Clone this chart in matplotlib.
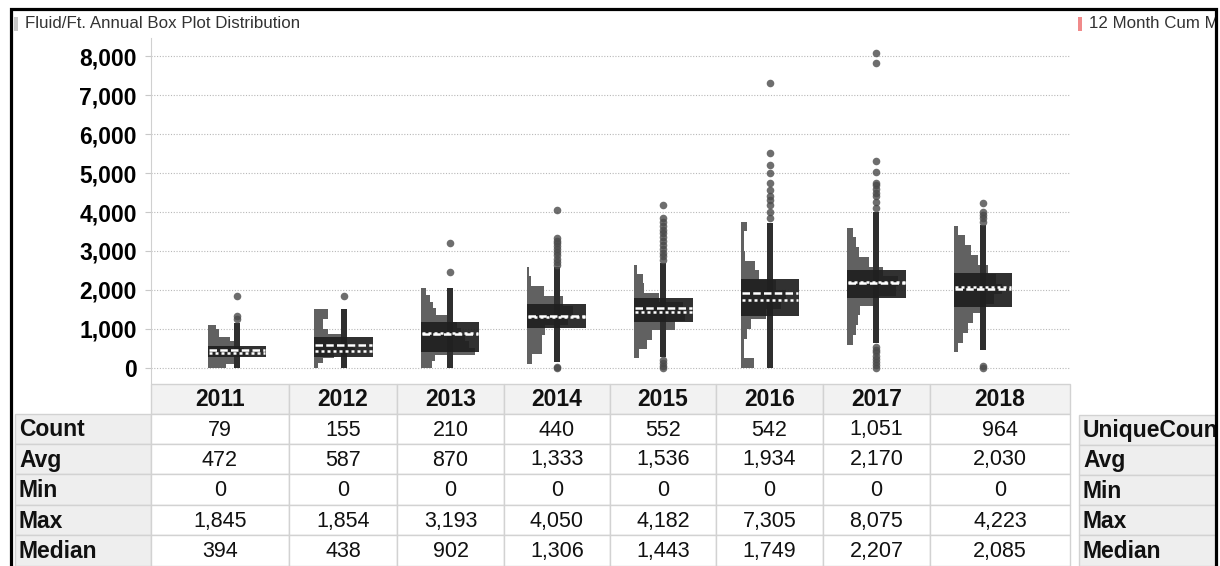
import matplotlib
matplotlib.use("Agg")
import matplotlib.pyplot as plt
from matplotlib.patches import Rectangle
from matplotlib.ticker import FuncFormatter

plt.rcParams['font.family'] = ['Liberation Sans', 'DejaVu Sans']

# yearly stats for fluid per foot
years = ['2011', '2012', '2013', '2014', '2015', '2016', '2017', '2018']
count = [79, 155, 210, 440, 552, 542, 1051, 964]
avg = [472, 587, 870, 1333, 1536, 1934, 2170, 2030]
vmin = [0, 0, 0, 0, 0, 0, 0, 0]
vmax = [1845, 1854, 3193, 4050, 4182, 7305, 8075, 4223]
median = [394, 438, 902, 1306, 1443, 1749, 2207, 2085]

# box / whisker extents
q1 = [290, 270, 410, 1025, 1180, 1330, 1800, 1570]
q3 = [560, 800, 1180, 1640, 1800, 2280, 2510, 2440]
whisk_lo = [0, 0, 0, 150, 280, 0, 640, 460]
whisk_hi = [1150, 1513, 2050, 2590, 2700, 3720, 4000, 3670]

outliers = [
    [1250, 1333, 1845],
    [1854],
    [2460, 3193],
    [0, 30, 2650, 2720, 2800, 2900, 2980, 3050, 3120, 3200, 3260, 3330, 4050],
    [0, 60, 120, 200, 2780, 2860, 2950, 3050, 3150, 3250, 3350, 3450, 3550,
     3650, 3750, 3850, 4182],
    [3850, 4000, 4180, 4300, 4400, 4560, 4750, 5000, 5200, 5510, 7305],
    [0, 80, 160, 240, 320, 400, 470, 550, 4100, 4250, 4400, 4500, 4600,
     4700, 4750, 5020, 5300, 7820, 8075],
    [0, 60, 3750, 3850, 3920, 4000, 4223],
]

# distribution bins: start value, bin size, relative frequency per bin
hist_lo = [0, 0, 0, 100, 250, 0, 600, 400]
hist_step = [100, 125, 170, 250, 240, 250, 250, 250]
hist_freq = [
    [18, 26, 30, 40, 36, 30, 26, 22, 11, 11, 8],
    [4, 9, 20, 40, 38, 30, 28, 14, 9, 9, 14, 14],
    [11, 14, 54, 48, 44, 40, 36, 26, 15, 12, 9, 5],
    [5, 14, 14, 17, 40, 45, 35, 16, 4, 2],
    [5, 13, 18, 41, 50, 48, 25, 10, 9, 3],
    [13, 3, 3, 6, 10, 25, 40, 45, 35, 18, 14, 4, 3, 3, 6],
    [6, 9, 11, 13, 30, 48, 50, 35, 22, 12, 9, 6],
    [4, 9, 14, 19, 26, 40, 48, 42, 34, 24, 17, 11, 4],
]
HIST_FULL = 58  # frequency that spans the whole box width

row_names = ['Count', 'Avg', 'Min', 'Max', 'Median']
right_names = ['UniqueCount', 'Avg', 'Min', 'Max', 'Median']

W, H = 1220, 566
fig = plt.figure(figsize=(W / 100, H / 100), dpi=100)

# page layer in pixel coordinates
bg = fig.add_axes([0, 0, 1, 1])
bg.set_xlim(0, W)
bg.set_ylim(H, 0)
bg.axis('off')

# ---- box plot panel ----
ax = fig.add_axes([151 / W, 1 - 383 / H, (1070 - 151) / W, (383 - 38) / H])
ax.set_xlim(-0.807, 7.816)
ax.set_ylim(-385, 8462)
for s in ['top', 'right', 'bottom']:
    ax.spines[s].set_visible(False)
ax.spines['left'].set_color('#d0d0d0')
ax.set_xticks([])
ax.set_yticks(range(0, 8001, 1000))
ax.yaxis.set_major_formatter(FuncFormatter(lambda v, p: f'{int(v):,}'))
ax.tick_params(axis='y', length=4.3, width=0.8, color='#c8c8c8', pad=5.8,
               labelsize=16.5)
for lab in ax.get_yticklabels():
    lab.set_fontweight('bold')
ax.yaxis.grid(True, color='#b8b8b8', linestyle=(0, (1, 1.5)), linewidth=0.8)
ax.set_axisbelow(True)

box_w = 0.55
for i in range(len(years)):
    left = i - box_w / 2
    f = hist_freq[i]
    bottoms = [hist_lo[i] + k * hist_step[i] for k in range(len(f))]
    widths = [v / HIST_FULL * box_w for v in f]
    ax.barh(bottoms, widths, height=hist_step[i], left=left, align='edge',
            color='#616161', linewidth=0, zorder=2)
    ax.bar(i, whisk_hi[i] - whisk_lo[i], bottom=whisk_lo[i], width=0.056,
           color='#2e2e2e', linewidth=0, zorder=3)
    ax.bar(i, q3[i] - q1[i], bottom=q1[i], width=box_w, color='#1f1f1f',
           alpha=0.92, linewidth=0, zorder=4)
    ax.hlines(avg[i], left + 0.01, left + box_w - 0.01, colors='white',
              linestyles=(0, (3.0, 1.3)), linewidth=1.8, zorder=5)
    ax.hlines(median[i], left + 0.01, left + box_w - 0.01, colors='white',
              linestyles=(0, (1.2, 1.2)), linewidth=1.8, zorder=5)
    ax.scatter([i] * len(outliers[i]), outliers[i], s=30, color='#4a4a4a',
               alpha=0.8, linewidths=0, zorder=6)

# ---- title strip ----
bg.add_patch(Rectangle((14, 17), 4, 14, color='#c8c8c8', lw=0))
bg.text(25, 24, 'Fluid/Ft. Annual Box Plot Distribution', fontsize=12.2,
        color='#333333', va='center', ha='left')
bg.add_patch(Rectangle((1078, 17), 4, 14, color='#f08a8a', lw=0))
clip = Rectangle((0, 0), 1213, H, transform=bg.transData)
t = bg.text(1089, 24, '12 Month Cum M', fontsize=12.2, color='#333333',
            va='center', ha='left')
t.set_clip_path(clip)

# ---- statistics table ----
col_edges = [151, 289, 397, 504, 610, 716, 823, 930, 1070]
row_edges = [414, 444, 474, 505, 535, 566]
grid_c = '#d2d2d2'

# header row
for j, yr in enumerate(years):
    x0, x1 = col_edges[j], col_edges[j + 1]
    bg.add_patch(Rectangle((x0, 384), x1 - x0, 30, facecolor='#f2f2f2',
                           edgecolor=grid_c, lw=1))
    bg.text((x0 + x1) / 2, 400, yr, fontsize=16.5, fontweight='bold',
            ha='center', va='center', color='#111111')

table_rows = [count, avg, vmin, vmax, median]
for r, name in enumerate(row_names):
    y0, y1 = row_edges[r], row_edges[r + 1]
    bg.add_patch(Rectangle((15, y0), 136, y1 - y0, facecolor='#eeeeee',
                           edgecolor=grid_c, lw=1))
    bg.text(19, (y0 + y1) / 2 + 1, name, fontsize=16.5, fontweight='bold',
            ha='left', va='center', color='#111111')
    for j in range(len(years)):
        x0, x1 = col_edges[j], col_edges[j + 1]
        bg.add_patch(Rectangle((x0, y0), x1 - x0, y1 - y0, facecolor='white',
                               edgecolor=grid_c, lw=1))
        bg.text((x0 + x1) / 2, (y0 + y1) / 2 + 1, f'{table_rows[r][j]:,}',
                fontsize=15.5, ha='center', va='center', color='#111111')

# summary table on the right, cut by the frame
right_edges = [415, 445, 475, 505, 535, 566]
for r, name in enumerate(right_names):
    y0, y1 = right_edges[r], right_edges[r + 1]
    bg.add_patch(Rectangle((1079, y0), 140, y1 - y0, facecolor='#eeeeee',
                           edgecolor=grid_c, lw=1))
    t = bg.text(1083, (y0 + y1) / 2 + 1, name, fontsize=16.5,
                fontweight='bold', ha='left', va='center', color='#111111')
    t.set_clip_path(clip)

# outer frame
bg.add_patch(Rectangle((1216, 0), 10, H, facecolor='white', lw=0, zorder=8))
bg.plot([10.5, 10.5, 1215.5, 1215.5], [H + 5, 8.5, 8.5, H + 5], color='black',
        lw=2.3, solid_joinstyle='miter', zorder=9)

fig.savefig('out.png', dpi=100)
